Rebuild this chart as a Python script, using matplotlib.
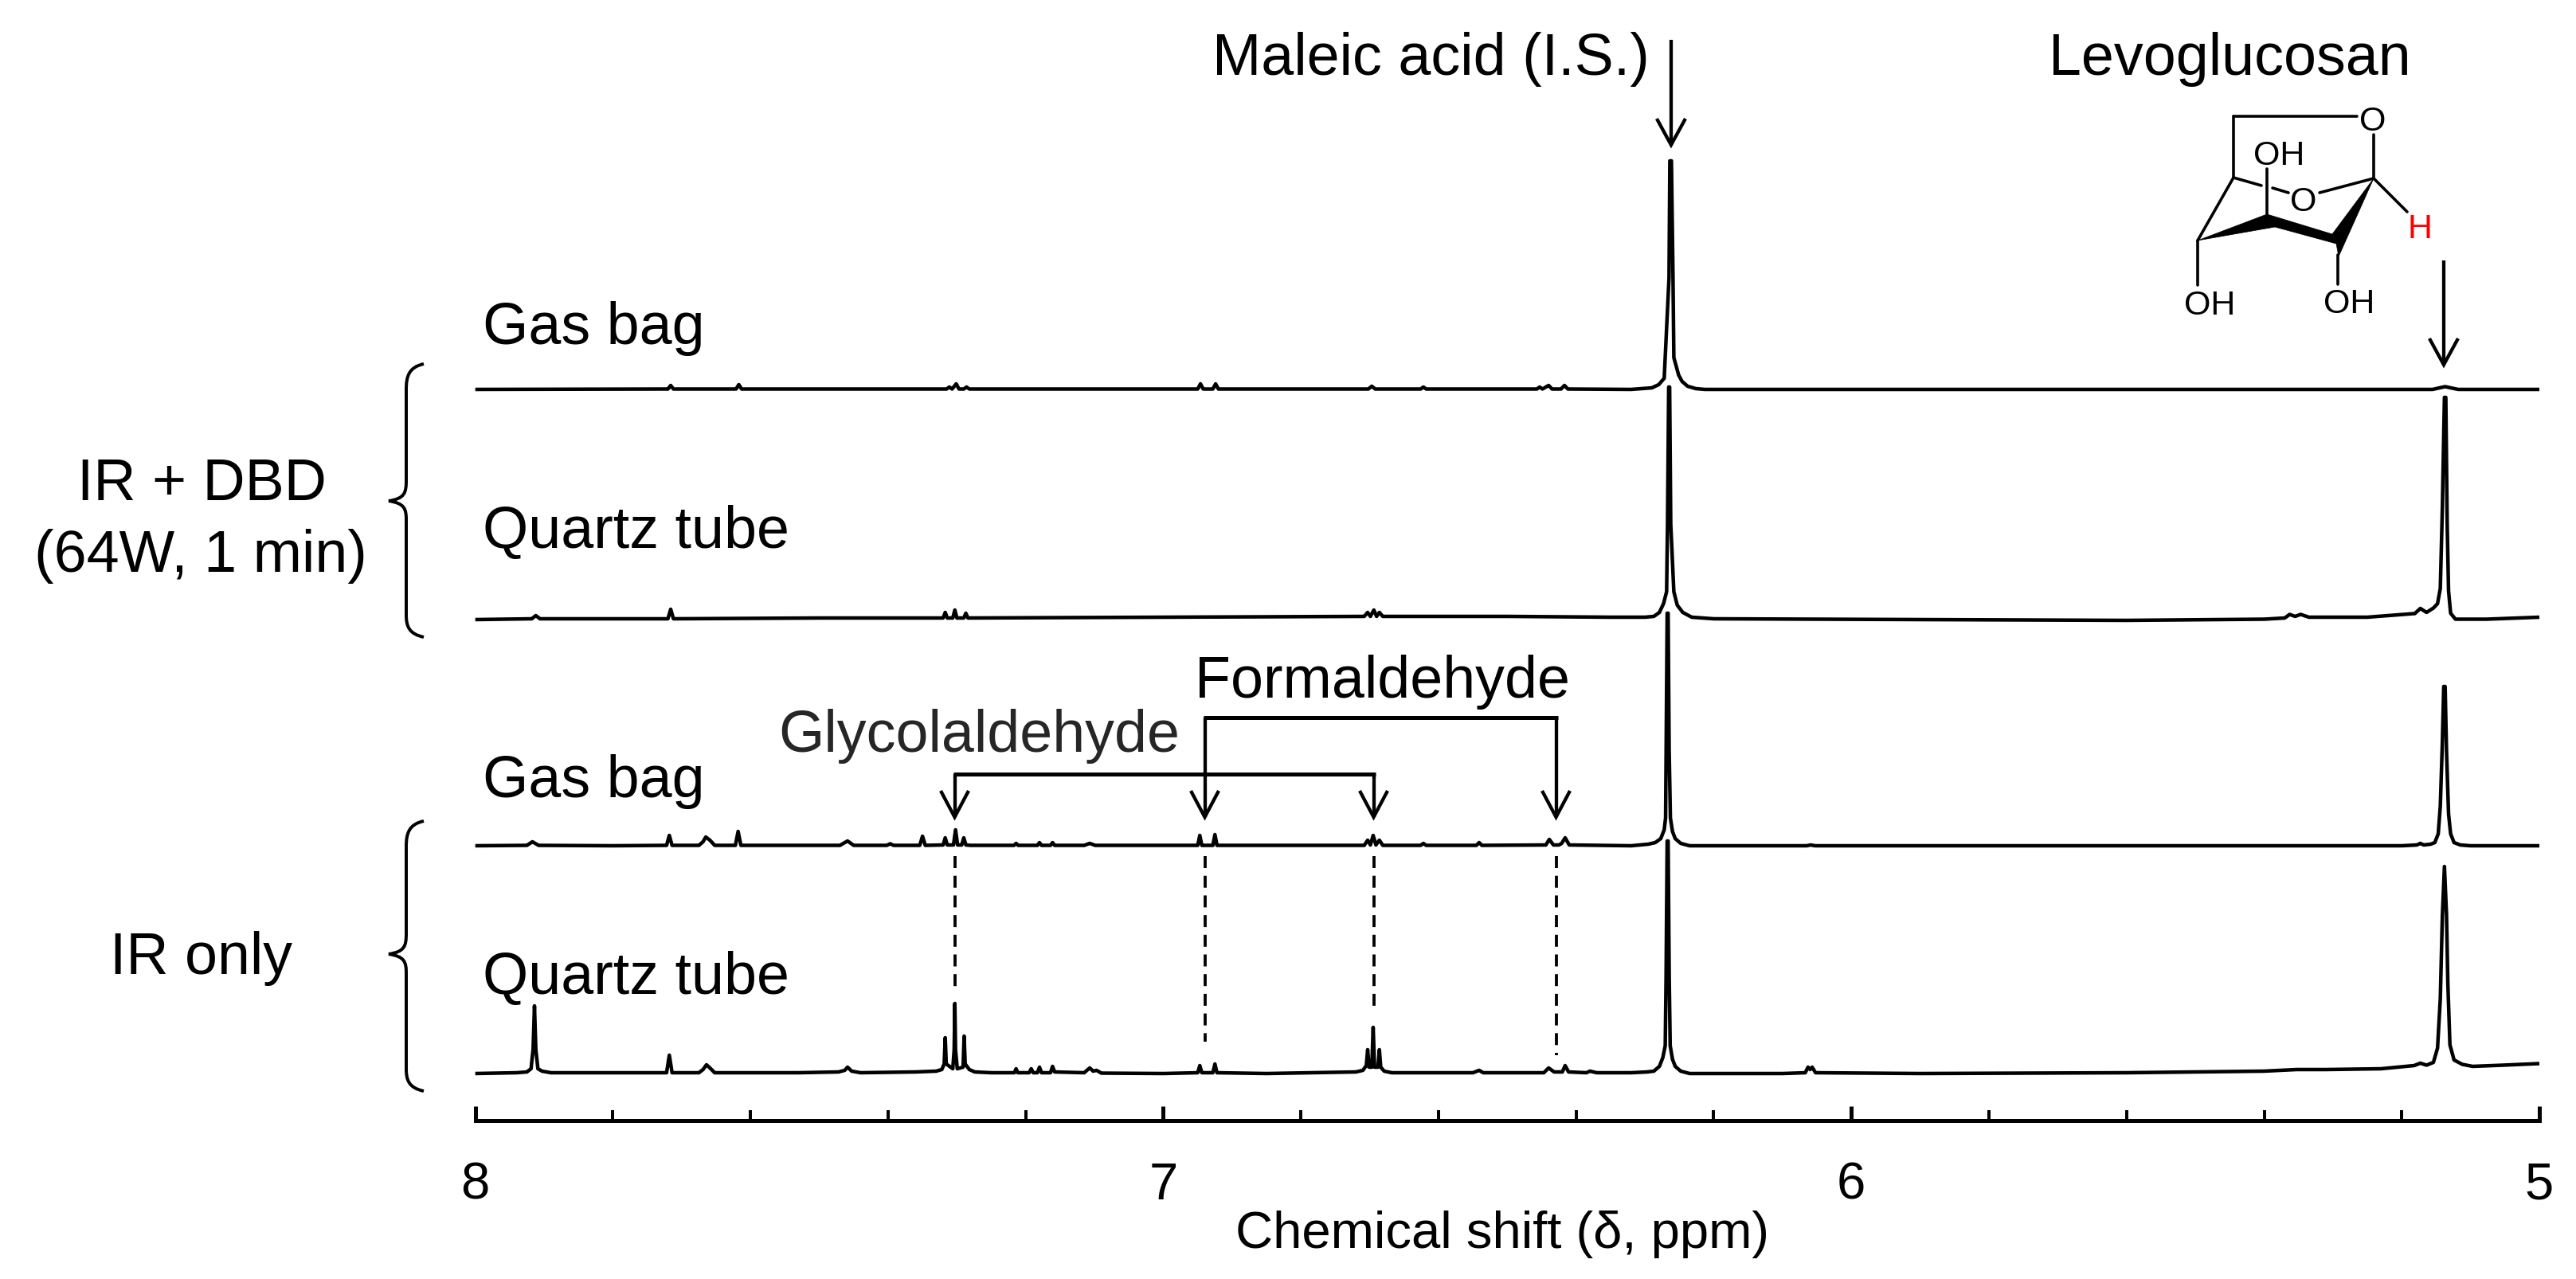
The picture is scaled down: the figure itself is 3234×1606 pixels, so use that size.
import matplotlib
matplotlib.use("Agg")
import matplotlib.pyplot as plt
from matplotlib.path import Path
from matplotlib.patches import PathPatch, Polygon

plt.rcParams['font.family'] = ['Liberation Sans', 'DejaVu Sans']

W, H = 3234, 1606
AX_L, AX_R, AX_Y = 596.7, 3188.0, 1407.5
PX = 100 / 72.0   # px per pt at dpi 100

major_ticks = [8, 7, 6, 5]
minor_ticks = [7.8, 7.6, 7.4, 7.2, 6.8, 6.6, 6.4, 6.2, 5.8, 5.6, 5.4, 5.2]
tick_labels = ['8', '7', '6', '5']
x_label = 'Chemical shift (δ, ppm)'

# spectrum baselines (height above the axis)
base_ir_quartz = 59.5
base_ir_bag = 345.5
base_dbd_quartz = 629.5
base_dbd_bag = 918.5

ppm_ir_quartz = [8.0, 7.94, 7.925, 7.919, 7.916, 7.914, 7.912, 7.909, 7.903, 7.89, 7.80,
                 7.722, 7.718, 7.714, 7.675, 7.669, 7.664, 7.659, 7.652, 7.53, 7.472, 7.463,
                 7.459, 7.453, 7.44, 7.36, 7.33, 7.322, 7.3185, 7.317, 7.3155, 7.306, 7.304,
                 7.303, 7.302, 7.2995, 7.291, 7.2895, 7.288, 7.282, 7.274, 7.25, 7.2165, 7.214,
                 7.2115, 7.195, 7.192, 7.189, 7.183, 7.180, 7.177, 7.164, 7.161, 7.158, 7.115,
                 7.107, 7.102, 7.097, 7.09, 7.0, 6.95, 6.947, 6.944, 6.928, 6.925, 6.922,
                 6.85, 6.72, 6.71, 6.705, 6.703, 6.701, 6.697, 6.695, 6.693, 6.688, 6.686,
                 6.684, 6.679, 6.668, 6.55, 6.541, 6.535, 6.447, 6.44, 6.432, 6.42, 6.416,
                 6.411, 6.385, 6.38, 6.37, 6.32, 6.297, 6.287, 6.279, 6.274, 6.2705, 6.2693,
                 6.2677, 6.2663, 6.2647, 6.2633, 6.260, 6.256, 6.248, 6.235, 6.1, 6.067, 6.063,
                 6.060, 6.057, 6.052, 5.9, 5.6, 5.4, 5.353, 5.31, 5.23, 5.182, 5.173,
                 5.164, 5.154, 5.148, 5.144, 5.141, 5.138, 5.135, 5.133, 5.13, 5.124, 5.112,
                 5.097, 5.053, 5.0]
int_ir_quartz = [0, 1, 2, 6, 30, 85, 30, 6, 3, 1, 1,
                 1, 23, 1, 1, 5, 11, 7, 1, 1, 2, 4,
                 8, 3, 1, 2, 3, 5, 12, 45, 12, 6, 30,
                 88, 30, 6, 8, 47, 12, 5, 2, 1, 1, 6,
                 1, 1, 6, 1, 1, 8, 1, 1, 9, 2, 1,
                 7, 3, 4, 0.5, 0, 1, 10, 1, 1, 12, 1,
                 0, 2, 4, 10, 30, 8, 8, 58, 8, 8, 30,
                 8, 3, 1, 1, 4, 1, 1, 7, 2, 2, 10,
                 2, 1, 3, 1, 1, 2, 3, 9, 20, 35, 120,
                 292, 292, 120, 35, 18, 9, 3, 0, 0, 1, 8,
                 5, 8, 1, 0, 1, 3, 5, 5, 6, 10, 13,
                 10.5, 14, 32, 94, 198, 260, 200, 112, 36, 17, 11.5,
                 9, 10.5, 12.5]

ppm_ir_bag = [8.0, 7.925, 7.917, 7.908, 7.80, 7.722, 7.718, 7.714, 7.675, 7.669, 7.665,
              7.659, 7.652, 7.622, 7.618, 7.614, 7.47, 7.459, 7.45, 7.402, 7.397, 7.392,
              7.354, 7.350, 7.346, 7.32, 7.317, 7.314, 7.305, 7.302, 7.299, 7.293, 7.290,
              7.287, 7.28, 7.217, 7.214, 7.211, 7.183, 7.180, 7.177, 7.164, 7.161, 7.158,
              7.115, 7.107, 7.099, 6.95, 6.947, 6.944, 6.928, 6.925, 6.922, 6.708, 6.703,
              6.699, 6.695, 6.691, 6.686, 6.681, 6.626, 6.622, 6.618, 6.545, 6.541, 6.537,
              6.444, 6.439, 6.433, 6.425, 6.421, 6.416, 6.41, 6.32, 6.295, 6.285, 6.277,
              6.272, 6.270, 6.2692, 6.2677, 6.2663, 6.2648, 6.263, 6.260, 6.256, 6.248, 6.235, 6.065,
              6.059, 6.053, 5.6, 5.2, 5.178, 5.173, 5.168, 5.158, 5.152, 5.147, 5.144,
              5.141, 5.139, 5.137, 5.135, 5.132, 5.129, 5.124, 5.115, 5.1, 5.0]
int_ir_bag = [0, 0.5, 5, 0.5, 0, 0.5, 13, 0.5, 0.5, 5, 11,
              7, 0.5, 0.5, 18, 0.5, 0.5, 6, 0.5, 0.5, 2.5, 0.5,
              0.5, 12, 0.5, 1, 10, 1, 1, 20, 1, 1, 10,
              1, 0.5, 0.5, 3, 0.5, 0.5, 4, 0.5, 0.5, 4, 0.5,
              0.5, 3, 0.5, 0.5, 13, 0.5, 0.5, 14, 0.5, 0.5, 7,
              1, 13, 1, 7, 0.5, 0.5, 3, 0.5, 0.5, 4, 0.5,
              1, 8, 1, 1, 3, 10, 1, 0, 2, 4, 9,
              20, 35, 120, 292, 292, 120, 35, 18, 9, 3, 0, 0,
              1, 0, 0, 0, 1, 3, 1, 2, 4, 15, 50,
              130, 200, 200, 120, 40, 15, 4, 1, 0, 0]

ppm_dbd_quartz = [8.0, 7.918, 7.912, 7.906, 7.80, 7.72, 7.716, 7.712, 7.5, 7.32, 7.317,
                  7.314, 7.306, 7.303, 7.3, 7.29, 7.287, 7.284, 7.0, 6.708, 6.703, 6.699,
                  6.694, 6.69, 6.686, 6.681, 6.5, 6.35, 6.30, 6.287, 6.279, 6.273, 6.2685,
                  6.2672, 6.2655, 6.2641, 6.2625, 6.258, 6.253, 6.245, 6.232, 6.2, 5.6, 5.4,
                  5.37, 5.363, 5.355, 5.347, 5.335, 5.25, 5.181, 5.173, 5.164, 5.154, 5.148,
                  5.144, 5.141, 5.138, 5.136, 5.134, 5.132, 5.129, 5.122, 5.077, 5.0]
int_dbd_quartz = [0, 1, 5, 1, 1, 1, 13, 1, 2, 2, 9,
                  2, 2, 12, 2, 2, 8, 2, 3, 4, 9,
                  4, 12, 4, 9, 4, 4, 3, 3, 4, 9, 20,
                  35, 120, 292, 292, 120, 35, 18, 9, 3, 1, -1, 0.5,
                  2, 6.5, 4, 6.5, 3, 3, 7.6, 14, 9, 14.5, 20,
                  39, 140, 279, 279, 120, 36, 8, 0.5, 0.5, 3]

ppm_dbd_bag = [8.0, 7.72, 7.716, 7.712, 7.621, 7.617, 7.613, 7.315, 7.311, 7.307, 7.301,
               7.297, 7.29, 7.286, 7.282, 6.95, 6.946, 6.942, 6.928, 6.924, 6.92, 6.702,
               6.697, 6.692, 6.626, 6.622, 6.618, 6.457, 6.453, 6.449, 6.44, 6.435, 6.422,
               6.417, 6.412, 6.32, 6.290, 6.280, 6.272, 6.265, 6.2638, 6.2615, 6.2592, 6.258,
               6.251, 6.246, 6.238, 6.226, 6.213, 5.6, 5.155, 5.145, 5.137, 5.129, 5.118, 5.0]
int_dbd_bag = [0, 0.5, 5, 0.5, 0.5, 6, 0.5, 0.5, 3, 0.5, 7,
               0.5, 0.5, 3, 0.5, 0.5, 7, 0.5, 0.5, 7, 0.5, 0.5,
               4, 0.5, 0.5, 3, 0.5, 0.5, 3, 0.5, 5, 0.5, 0.5,
               5, 0.5, 0, 2, 6, 14, 140, 287, 287, 140, 40,
               18, 10, 4, 1, 0, 0, 0, 2, 3.5, 2, 0, 0]

spectra = [
    (ppm_ir_quartz, int_ir_quartz, base_ir_quartz),
    (ppm_ir_bag, int_ir_bag, base_ir_bag),
    (ppm_dbd_quartz, int_dbd_quartz, base_dbd_quartz),
    (ppm_dbd_bag, int_dbd_bag, base_dbd_bag),
]

# annotation positions on the ppm scale
maleic_ppm = 6.262
levo_ppm = 5.139

fig = plt.figure(figsize=(3234.02 / 100, 1606.02 / 100), dpi=100, facecolor='white')
ax = fig.add_axes([AX_L / W, (H - AX_Y) / H, (AX_R - AX_L) / W, AX_Y / H])
ax.patch.set_alpha(0)
for s, (p, v, b) in zip(range(4), spectra):
    assert len(p) == len(v), s
    ax.plot(p, [b + i for i in v], color='black', lw=4.5 / PX, solid_joinstyle='round',
            solid_capstyle='butt', clip_on=False)
ax.set_xlim(8, 5)
ax.set_ylim(0, AX_Y)
for sp in ('top', 'left', 'right'):
    ax.spines[sp].set_visible(False)
ax.spines['bottom'].set_linewidth(5 / PX)
ax.set_yticks([])
ax.set_xticks(major_ticks)
ax.set_xticklabels(tick_labels, fontsize=47)
ax.set_xticks(minor_ticks, minor=True)
ax.tick_params(axis='x', which='major', direction='in', length=18 / PX, width=5 / PX, pad=37)
ax.tick_params(axis='x', which='minor', direction='in', length=13 / PX, width=4 / PX)
ax.set_xlabel(x_label, fontsize=47, va='baseline')
ax.xaxis.set_label_coords((1886 - AX_L) / (AX_R - AX_L), -(1567 - AX_Y) / AX_Y)

# overlay in pixel coordinates for labels, arrows, braces and the structure
ov = fig.add_axes([0, 0, 1, 1])
ov.set_xlim(0, W)
ov.set_ylim(H, 0)
ov.axis('off')
ov.patch.set_alpha(0)


def X(ppm):
    return AX_L + (8 - ppm) * (AX_R - AX_L) / 3.0


def txt(x, y, s, ha='left', size=53, color='black', va='baseline'):
    ov.text(x, y, s, ha=ha, va=va, fontsize=size, color=color)


def seg(xs, ys, lw=4.0, **kw):
    kw.setdefault('solid_capstyle', 'butt')
    ov.plot(xs, ys, color='black', lw=lw / PX, **kw)


def arrow(x, y0, y1, hw=18, hl=33, lw=4.3):
    seg([x, x], [y0, y1], lw)
    seg([x - hw, x, x + hw], [y1 - hl, y1, y1 - hl], lw, solid_joinstyle='miter')


def brace(top, tip, bottom):
    xe, xs, xt = 532, 510, 488
    verts = [(xe, top), (xs + 3, top + 4), (xs, top + 16), (xs, top + 32),
             (xs, tip - 26),
             (xs, tip - 10), (xs - 2, tip - 3), (xt, tip),
             (xs - 2, tip + 3), (xs, tip + 10), (xs, tip + 24),
             (xs, bottom - 28),
             (xs, bottom - 14), (xs + 3, bottom - 4), (xe, bottom)]
    codes = [Path.MOVETO, Path.CURVE4, Path.CURVE4, Path.CURVE4, Path.LINETO,
             Path.CURVE4, Path.CURVE4, Path.CURVE4, Path.CURVE4, Path.CURVE4, Path.CURVE4,
             Path.LINETO, Path.CURVE4, Path.CURVE4, Path.CURVE4]
    ov.add_patch(PathPatch(Path(verts, codes), fc='none', ec='black', lw=4.0 / PX))


txt(606, 432, 'Gas bag')
txt(606, 688, 'Quartz tube')
txt(606, 1001, 'Gas bag')
txt(606, 1248, 'Quartz tube')
txt(253, 628, 'IR + DBD', ha='center')
txt(252, 718, '(64W, 1 min)', ha='center')
txt(253, 1223, 'IR only', ha='center')
brace(457, 629, 800)
brace(1031, 1198, 1370)

txt(1522, 94, 'Maleic acid (I.S.)')
txt(2572, 94, 'Levoglucosan')
arrow(X(maleic_ppm), 50, 182)
arrow(X(levo_ppm), 327, 458)

txt(1500, 876, 'Formaldehyde')
txt(977, 944, 'Glycolaldehyde', color='#262626')
fx0, fx1 = 1512.5, 1953.5
gx0, gx1 = 1198.5, 1724.5
seg([fx0 - 2, fx1 + 2], [901, 901], 5.0)
seg([gx0 - 2, gx1 + 2], [972, 972], 5.0)
arrow(fx0, 901, 1026, hw=17.5)
arrow(fx1, 901, 1026, hw=17.5)
arrow(gx0, 972, 1026, hw=17.5)
arrow(gx1, 972, 1026, hw=17.5)

for x, y1 in zip([gx0, fx0, gx1, fx1], [1247, 1308, 1272, 1325]):
    ov.plot([x, x], [1075, y1], color='black', lw=3.8 / PX, dashes=(15 / 3.8, 9.7 / 3.8),
            dash_capstyle='butt')

# levoglucosan structure
bonds = [((2804, 146), (2959, 146)), ((2804, 146), (2804, 223)), ((2980, 169), (2980, 224)),
         ((2804, 223), (2839, 233)), ((2853, 236), (2873, 242)), ((2912, 242), (2980, 224)),
         ((2980, 224), (3022, 266)), ((2804, 223), (2759, 302)), ((2846, 212), (2846, 269)),
         ((2759, 302), (2759, 358)), ((2934.5, 320), (2934.5, 357))]
for a, b in bonds:
    seg([a[0], b[0]], [a[1], b[1]], 3.6, solid_capstyle='round')
ov.add_patch(Polygon([(2759, 302), (2846, 269), (2856, 285)], fc='black', ec='black', lw=0.5))
ov.add_patch(Polygon([(2846, 269), (2856, 285), (2933, 306), (2928, 294)], fc='black', ec='black', lw=0.5))
ov.add_patch(Polygon([(2980, 224), (2928, 294), (2933, 306), (2936, 322)], fc='black', ec='black', lw=0.5))
for x, y, s, c in [(2979, 148, 'O', 'black'), (2892, 249, 'O', 'black'), (2861, 191, 'OH', 'black'),
                   (2774, 379, 'OH', 'black'), (2949, 377, 'OH', 'black'), (3038, 283, 'H', 'red')]:
    ov.text(x, y, s, ha='center', va='center_baseline', fontsize=31, color=c)

fig.savefig('out.png', dpi=100, facecolor='white')
